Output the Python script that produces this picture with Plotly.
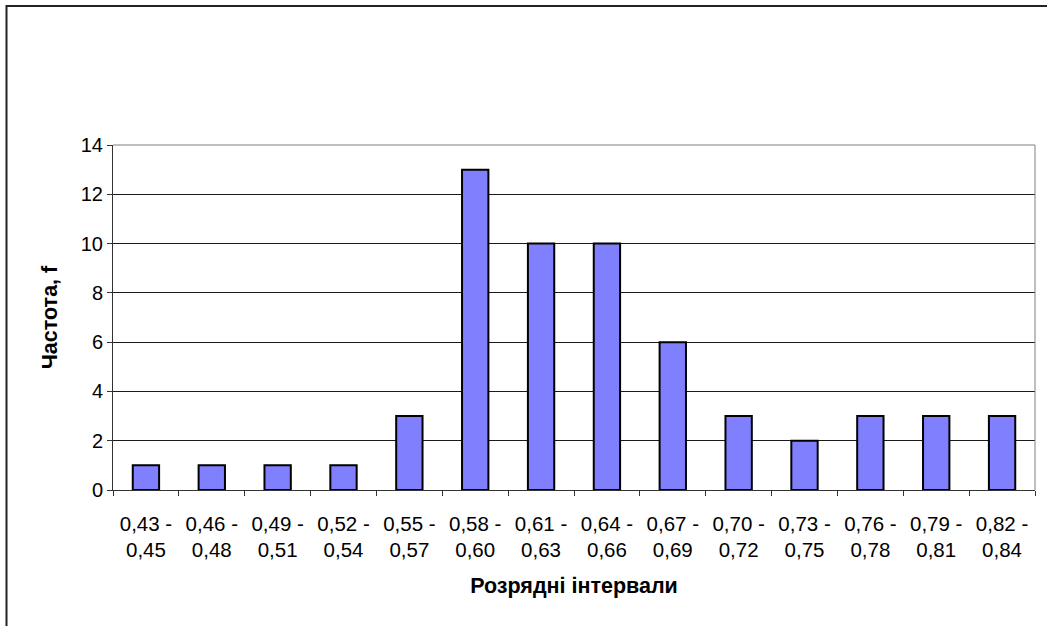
import plotly.graph_objects as go

categories = ["0,43 -<br>0,45", "0,46 -<br>0,48", "0,49 -<br>0,51", "0,52 -<br>0,54",
              "0,55 -<br>0,57", "0,58 -<br>0,60", "0,61 -<br>0,63", "0,64 -<br>0,66",
              "0,67 -<br>0,69", "0,70 -<br>0,72", "0,73 -<br>0,75", "0,76 -<br>0,78",
              "0,79 -<br>0,81", "0,82 -<br>0,84"]
frequencies = [1, 1, 1, 1, 3, 13, 10, 10, 6, 3, 2, 3, 3, 3]
y_ticks = [0, 2, 4, 6, 8, 10, 12, 14]

FONT = "Liberation Sans, Arial, sans-serif"

fig = go.Figure(go.Bar(
    x=categories, y=frequencies,
    marker=dict(color="#8080FF", line=dict(color="#000000", width=2)),
))

L, R, T, B = 113, 12, 145, 136
W, H = 1047, 626
pw = W - L - R
ph = H - T - B

fig.update_layout(
    width=W, height=H,
    margin=dict(l=L, r=R, t=T, b=B, autoexpand=False),
    paper_bgcolor="white", plot_bgcolor="white",
    bargap=0.6, showlegend=False,
    font=dict(family=FONT, color="#000000", size=20),
    xaxis=dict(
        type="category", showline=True, linecolor="#333333", linewidth=1,
        ticks="outside", ticklen=5, tickcolor="#333333", tickson="boundaries",
        showgrid=False, automargin=False,
        tickfont=dict(size=20.5), ticklabelstandoff=15,
        title=dict(text="<b>Розрядні інтервали</b>", font=dict(size=21.5), standoff=17),
    ),
    yaxis=dict(
        range=[0, 14], tickvals=y_ticks, showline=True, linecolor="#333333", linewidth=1,
        ticks="outside", ticklen=5, tickcolor="#333333",
        showgrid=True, gridcolor="#1a1a1a", gridwidth=1, zeroline=False,
        automargin=False, tickfont=dict(size=20),
        title=dict(text="<b>Частота, f</b>", font=dict(size=21.5), standoff=17),
    ),
    shapes=[
        dict(type="line", xref="paper", yref="paper", x0=0, x1=1, y0=1, y1=1,
             line=dict(color="#808080", width=1)),
        dict(type="line", xref="paper", yref="paper", x0=1, x1=1, y0=0, y1=1,
             line=dict(color="#808080", width=1)),
        dict(type="rect", xref="paper", yref="paper",
             x0=(6.5 - L) / pw, x1=(W + 10 - L) / pw,
             y0=(H - B - (H + 10)) / ph, y1=(H - B - 6) / ph,
             line=dict(color="#222222", width=2)),
    ],
)

fig.write_html("out.html", config={"displayModeBar": False},
               post_script="document.body.style.margin='0';")
